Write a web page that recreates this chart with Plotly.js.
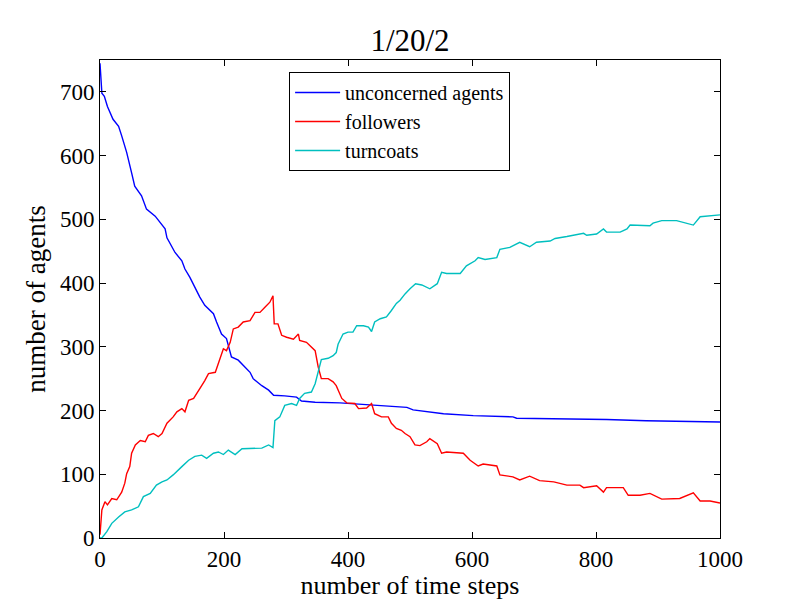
<!DOCTYPE html>
<html>
<head>
<meta charset="utf-8">
<script src="https://cdn.plot.ly/plotly-3.0.1.min.js"></script>
<style>
  html, body { margin: 0; padding: 0; background: #ffffff; }
  #chart { width: 800px; height: 600px; }
</style>
</head>
<body>
<div id="chart"></div>
<script>
// values
var unconcernedSteps = [0, 3, 7, 12, 21, 30, 35, 43, 51, 56, 67, 75, 89, 105, 108, 121, 132, 137, 145, 153, 161, 169, 183, 188, 196, 204, 212, 223, 242, 247, 261, 272, 280, 298, 317, 325, 347, 387, 441, 495, 505, 532, 554, 602, 666, 672, 752, 817, 881, 951, 957, 1000];
var unconcernedCounts = [745, 698, 693, 677, 657, 646, 631, 605, 573, 552, 537, 516, 505, 485, 471, 448, 435, 422, 409, 393, 378, 365, 352, 339, 320, 313, 284, 279, 260, 250, 239, 232, 224, 223, 221, 215, 213, 212, 208, 205, 201, 198, 195, 192, 190, 188, 187, 186, 184, 183, 182, 182];

var followerSteps = [0, 2, 3, 8, 12, 19, 27, 35, 40, 43, 48, 51, 57, 65, 73, 78, 86, 94, 100, 108, 118, 124, 132, 137, 143, 151, 156, 164, 169, 175, 186, 191, 199, 204, 210, 215, 223, 231, 242, 250, 258, 266, 274, 279, 281, 287, 293, 301, 312, 320, 322, 333, 341, 347, 352, 357, 368, 376, 381, 390, 398, 411, 417, 430, 438, 443, 454, 465, 470, 478, 486, 492, 500, 508, 516, 527, 532, 544, 551, 559, 586, 597, 610, 618, 640, 645, 666, 677, 693, 709, 732, 753, 774, 780, 801, 812, 817, 844, 852, 871, 887, 906, 935, 957, 968, 984, 1000];
var followerCounts = [5, 30, 44, 57, 52, 62, 60, 72, 86, 101, 112, 133, 146, 153, 151, 161, 164, 159, 164, 180, 190, 198, 203, 198, 216, 219, 226, 239, 247, 258, 260, 273, 297, 294, 307, 328, 331, 339, 341, 354, 354, 362, 370, 380, 336, 336, 318, 315, 312, 320, 310, 307, 299, 294, 268, 250, 250, 245, 239, 219, 212, 211, 203, 204, 211, 195, 190, 190, 180, 172, 169, 164, 159, 146, 145, 151, 156, 148, 133, 135, 133, 122, 113, 116, 113, 99, 96, 91, 97, 90, 88, 83, 83, 79, 82, 72, 79, 79, 67, 67, 70, 61, 62, 71, 58, 58, 55];

var turncoatSteps = [0, 3, 11, 19, 30, 40, 51, 62, 70, 81, 91, 100, 108, 118, 132, 143, 153, 164, 172, 183, 191, 199, 207, 218, 229, 239, 250, 261, 272, 279, 282, 290, 298, 309, 317, 322, 330, 341, 347, 352, 357, 368, 376, 381, 384, 392, 400, 408, 414, 425, 433, 438, 443, 452, 462, 470, 478, 484, 492, 500, 509, 519, 532, 544, 551, 559, 581, 591, 605, 610, 621, 640, 645, 661, 677, 693, 704, 726, 734, 753, 769, 780, 785, 801, 812, 817, 839, 850, 855, 871, 887, 892, 906, 930, 941, 957, 968, 984, 1000];
var turncoatCounts = [0, 0, 10, 23, 33, 41, 44, 49, 65, 70, 83, 88, 91, 99, 112, 122, 128, 130, 125, 133, 135, 131, 138, 131, 140, 140, 140, 141, 146, 142, 184, 190, 208, 211, 208, 219, 227, 229, 242, 263, 280, 282, 286, 291, 304, 320, 323, 323, 333, 333, 331, 324, 339, 344, 347, 357, 368, 373, 383, 391, 399, 397, 391, 399, 417, 415, 415, 427, 435, 440, 437, 440, 453, 456, 464, 457, 464, 466, 470, 473, 476, 478, 475, 477, 485, 480, 480, 485, 491, 491, 490, 494, 498, 498, 495, 491, 504, 505, 507];

var xTicks = [0, 200, 400, 600, 800, 1000];
var yTicks = [0, 100, 200, 300, 400, 500, 600, 700];

var serif = 'Liberation Serif, DejaVu Serif, serif';

var traces = [
    {
        x: unconcernedSteps,
        y: unconcernedCounts,
        name: 'unconcerned agents',
        type: 'scatter',
        mode: 'lines',
        line: { color: '#0000ff', width: 1.4 }
    },
    {
        x: followerSteps,
        y: followerCounts,
        name: 'followers',
        type: 'scatter',
        mode: 'lines',
        line: { color: '#ff0000', width: 1.4 }
    },
    {
        x: turncoatSteps,
        y: turncoatCounts,
        name: 'turncoats',
        type: 'scatter',
        mode: 'lines',
        line: { color: '#00bfbf', width: 1.4 }
    }
];

var axisStyle = {
    showgrid: false,
    zeroline: false,
    showline: true,
    linecolor: '#000000',
    linewidth: 1,
    mirror: 'ticks',
    ticks: 'inside',
    ticklen: 6,
    tickcolor: '#000000',
    tickfont: { family: serif, size: 23, color: '#000000' }
};

var layout = {
    width: 800,
    height: 600,
    paper_bgcolor: '#ffffff',
    plot_bgcolor: '#ffffff',
    margin: { l: 100, r: 80, t: 60, b: 62 },
    title: {
        text: '1/20/2',
        font: { family: serif, size: 31, color: '#000000' },
        x: 0.5125,
        xanchor: 'center',
        y: 0.933,
        yanchor: 'middle'
    },
    xaxis: Object.assign({}, axisStyle, {
        range: [0, 1000],
        tickvals: xTicks,
        title: { text: 'number of time steps', font: { family: serif, size: 26, color: '#000000' }, standoff: 9 }
    }),
    yaxis: Object.assign({}, axisStyle, {
        range: [0, 750],
        tickvals: yTicks,
        title: { text: 'number of agents', font: { family: serif, size: 27, color: '#000000' }, standoff: 6 }
    }),
    showlegend: true,
    legend: {
        x: 0.305,
        y: 0.975,
        xanchor: 'left',
        yanchor: 'top',
        bgcolor: '#ffffff',
        bordercolor: '#000000',
        borderwidth: 1,
        font: { family: serif, size: 20, color: '#000000' },
        itemwidth: 45
    }
};

Plotly.newPlot('chart', traces, layout, { displayModeBar: false, staticPlot: true });
</script>
</body>
</html>
